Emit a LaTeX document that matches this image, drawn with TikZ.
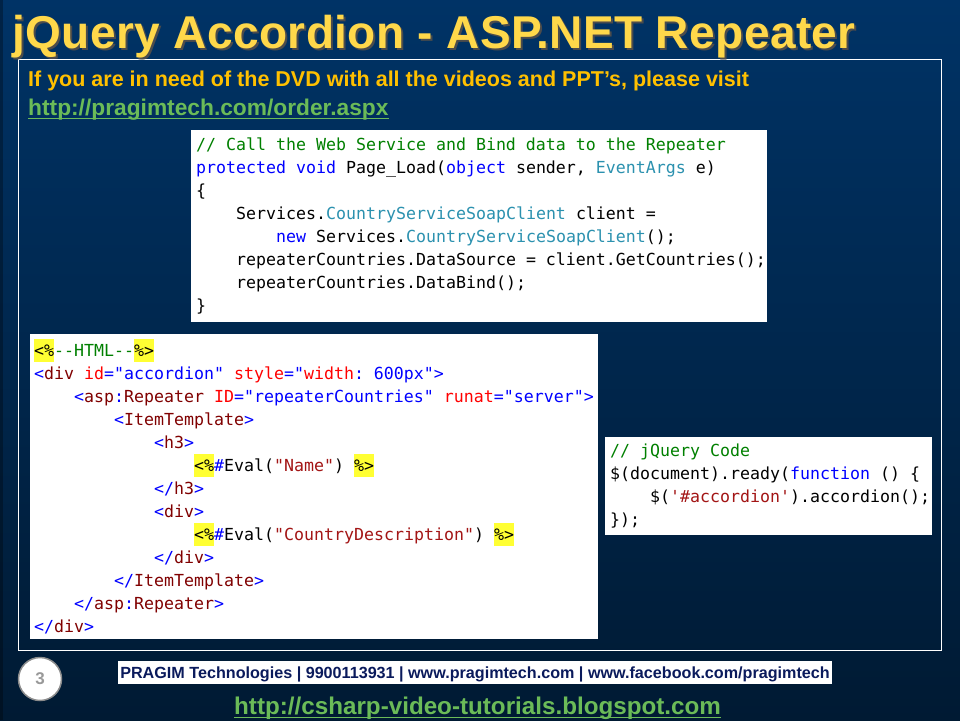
\documentclass[tikz,border=0pt]{standalone}
\usepackage{fontspec}
\setmainfont{Liberation Sans}
\newfontfamily\codefont{DejaVu Sans Mono}
\definecolor{slidetop}{HTML}{003366}
\definecolor{slidebottom}{HTML}{001A33}
\definecolor{titleyellow}{HTML}{FFD84A}
\definecolor{noteorange}{HTML}{FFC000}
\definecolor{linkgreen}{HTML}{6BBB58}
\definecolor{footnavy}{HTML}{0A1A5C}
\definecolor{hlyellow}{HTML}{FFFF33}
\definecolor{kwblue}{HTML}{0000FF}
\definecolor{typeteal}{HTML}{2B91AF}
\definecolor{cmtgreen}{HTML}{008000}
\definecolor{tagmaroon}{HTML}{800000}
\definecolor{strbrown}{HTML}{A31515}
\newcommand{\codekw}[1]{\textcolor{kwblue}{#1}}
\newcommand{\codetype}[1]{\textcolor{typeteal}{#1}}
\newcommand{\codecm}[1]{\textcolor{cmtgreen}{#1}}
\newcommand{\codetag}[1]{\textcolor{tagmaroon}{#1}}
\newcommand{\codeattr}[1]{\textcolor{red}{#1}}
\newcommand{\codestr}[1]{\textcolor{strbrown}{#1}}
\newcommand{\hlmark}[1]{{\setlength{\fboxsep}{0pt}\colorbox{hlyellow}{\rule[-6pt]{0pt}{23pt}#1}}}
\tikzset{
	codeline/.style={anchor=base west,inner sep=0pt,text=black,font=\codefont\fontsize{16.6}{23}\selectfont\frenchspacing},
	codepanel/.style={fill=white},
	titletext/.style={anchor=base west,inner sep=0pt,font=\bfseries\fontsize{46}{50}\selectfont\addfontfeature{LetterSpace=1}},
	linktext/.style={anchor=base west,inner sep=0pt,text=linkgreen,font=\bfseries},
	linkrule/.style={linkgreen,line width=1pt}
}
\begin{document}
\begin{tikzpicture}[x=1pt,y=-1pt]
	
	%slide
	\shade[top color=slidetop,bottom color=slidebottom] (0,0) rectangle (960,720);
	\useasboundingbox (0,0) rectangle (960,720);
	\fill[black,opacity=0.3] (0,0) rectangle (3,720);
	\draw[white,line width=1pt] (18.5,59.5) rectangle (941,650);
	%title
	\node[titletext,text=black!70](titleshadow) at (14,50) {jQuery Accordion - ASP.NET Repeater};
	\node[titletext,text=titleyellow](title) at (12,48) {jQuery Accordion - ASP.NET Repeater};
	%note
	\node[anchor=base west,inner sep=0pt,text=noteorange,font=\bfseries\fontsize{21.5}{24}\selectfont](note) at (28,86) {If you are in need of the DVD with all the videos and PPT’s, please visit};
	\node[linktext,font=\bfseries\fontsize{22.75}{24}\selectfont](orderlink) at (28,115) {http://pragimtech.com/order.aspx};
	\draw[linkrule] ([yshift=-3pt]orderlink.base west) -- ([yshift=-3pt]orderlink.base east);
	
	%page load code
	\fill[codepanel] (191,130) rectangle (767,322);
	\node[codeline](load1) at (196,150) {\codecm{// Call the Web Service and Bind data to the Repeater}};
	\node[codeline](load2) at (196,173) {\codekw{protected void} Page\_Load(\codekw{object} sender, \codetype{EventArgs} e)};
	\node[codeline](load3) at (196,196) {\{};
	\node[codeline](load4) at (236,219) {Services.\codetype{CountryServiceSoapClient} client =};
	\node[codeline](load5) at (276,242) {\codekw{new} Services.\codetype{CountryServiceSoapClient}();};
	\node[codeline](load6) at (236,265) {repeaterCountries.DataSource = client.GetCountries();};
	\node[codeline](load7) at (236,288) {repeaterCountries.DataBind();};
	\node[codeline](load8) at (196,311) {\}};
	
	%html code
	\fill[codepanel] (30,334) rectangle (598,639);
	\node[codeline](html1) at (34,356) {\hlmark{<\%}\codecm{--HTML--}\hlmark{\%>}};
	\node[codeline](html2) at (34,379) {\codekw{<}\codetag{div} \codeattr{id}\codekw{="accordion"} \codeattr{style}\codekw{="}\codeattr{width}\codekw{: 600px">}};
	\node[codeline](html3) at (74,402) {\codekw{<}\codetag{asp}\codekw{:}\codetag{Repeater} \codeattr{ID}\codekw{="repeaterCountries"} \codeattr{runat}\codekw{="server">}};
	\node[codeline](html4) at (114,425) {\codekw{<}\codetag{ItemTemplate}\codekw{>}};
	\node[codeline](html5) at (154,448) {\codekw{<}\codetag{h3}\codekw{>}};
	\node[codeline](html6) at (194,471) {\hlmark{<\%}\codekw{\#}Eval(\codestr{"Name"}) \hlmark{\%>}};
	\node[codeline](html7) at (154,494) {\codekw{</}\codetag{h3}\codekw{>}};
	\node[codeline](html8) at (154,517) {\codekw{<}\codetag{div}\codekw{>}};
	\node[codeline](html9) at (194,540) {\hlmark{<\%}\codekw{\#}Eval(\codestr{"CountryDescription"}) \hlmark{\%>}};
	\node[codeline](html10) at (154,563) {\codekw{</}\codetag{div}\codekw{>}};
	\node[codeline](html11) at (114,586) {\codekw{</}\codetag{ItemTemplate}\codekw{>}};
	\node[codeline](html12) at (74,609) {\codekw{</}\codetag{asp}\codekw{:}\codetag{Repeater}\codekw{>}};
	\node[codeline](html13) at (34,632) {\codekw{</}\codetag{div}\codekw{>}};
	
	%jquery code
	\fill[codepanel] (605,437) rectangle (932,535);
	\node[codeline](jq1) at (610,456) {\codecm{// jQuery Code}};
	\node[codeline](jq2) at (610,479) {\$(document).ready(\codekw{function} () \{};
	\node[codeline](jq3) at (650,502) {\$(\codestr{'\#accordion'}).accordion();};
	\node[codeline](jq4) at (610,525) {\});};
	
	%footer
	\node[circle,draw=black!45,line width=1.5pt,fill=white,minimum size=43pt,inner sep=0pt,text=black!40,font=\bfseries\fontsize{17}{20}\selectfont](pagenum) at (40,679) {3};
	\fill[white] (118,661) rectangle (832,684);
	\node[anchor=base,inner sep=0pt,text=footnavy,font=\bfseries\fontsize{16.15}{20}\selectfont](contact) at (475,678) {PRAGIM Technologies | 9900113931 | www.pragimtech.com | www.facebook.com/pragimtech};
	\node[linktext,font=\bfseries\fontsize{24.2}{28}\selectfont](bloglink) at (234,714) {http://csharp-video-tutorials.blogspot.com};
	\draw[linkrule] ([yshift=-3pt]bloglink.base west) -- ([yshift=-3pt]bloglink.base east);
	\end{tikzpicture}
\end{document}
